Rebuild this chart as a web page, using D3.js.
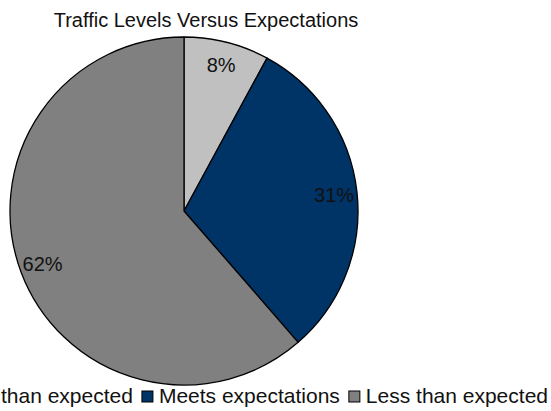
<!DOCTYPE html>
<html>
<head>
<meta charset="utf-8">
<script src="https://cdn.jsdelivr.net/npm/d3@7"></script>
<style>
  html, body { margin: 0; padding: 0; background: #fff; }
  svg { display: block; }
  text { font-family: "Liberation Sans", Arial, Helvetica, sans-serif; fill: #111; }
</style>
</head>
<body>
<svg id="chart" width="551" height="411"></svg>
<script>
// Survey responses: traffic levels compared with expectations (percent)
const categories = ["More than expected", "Meets expectations", "Less than expected"];
const values = [8, 31, 62];
const colors = ["#c0c0c0", "#003366", "#808080"];
const title = "Traffic Levels Versus Expectations";

const svg = d3.select("#chart");
const cx = 184, cy = 211, radius = 174;

svg.append("text")
  .attr("x", 206).attr("y", 27)
  .attr("text-anchor", "middle")
  .attr("font-size", 20)
  .text(title);

const pie = d3.pie().sort(null).value(d => d.value);
const data = categories.map((c, i) => ({ name: c, value: values[i], color: colors[i] }));
const arcs = pie(data);

const arc = d3.arc().innerRadius(0).outerRadius(radius);
const labelArc = d3.arc().innerRadius(151).outerRadius(151);

const g = svg.append("g").attr("transform", `translate(${cx},${cy})`);
g.selectAll("path.slice")
  .data(arcs)
  .join("path")
  .attr("class", "slice")
  .attr("d", arc)
  .attr("fill", d => d.data.color)
  .attr("stroke", "#000")
  .attr("stroke-width", 1.3)
  .attr("stroke-linejoin", "round");

g.selectAll("text.pct")
  .data(arcs)
  .join("text")
  .attr("class", "pct")
  .attr("transform", d => `translate(${labelArc.centroid(d)})`)
  .attr("text-anchor", "middle")
  .attr("dy", "0.35em")
  .attr("font-size", 20)
  .text(d => d.data.value + "%");

// Legend laid out in one row, right edge fixed; the first entry runs past the left edge
const legend = svg.append("g");
const box = 11, pad = 6, gapItems = 9, baseline = 403, rightEdge = 548;
const items = legend.selectAll("g.item")
  .data(data)
  .join("g")
  .attr("class", "item");
items.append("rect")
  .attr("width", box).attr("height", box)
  .attr("fill", d => d.color)
  .attr("stroke", "#000").attr("stroke-width", 1);
items.append("text")
  .attr("font-size", 21)
  .attr("x", box + pad)
  .attr("y", 0)
  .text(d => d.name);

const widths = [];
items.each(function () {
  widths.push(box + pad + d3.select(this).select("text").node().getComputedTextLength());
});
const total = d3.sum(widths) + gapItems * (widths.length - 1);
let x = rightEdge - total;
items.each(function (d, i) {
  const it = d3.select(this);
  it.select("rect").attr("x", 0).attr("y", -box - 1);
  it.attr("transform", `translate(${x},${baseline})`);
  x += widths[i] + gapItems;
});
</script>
</body>
</html>
